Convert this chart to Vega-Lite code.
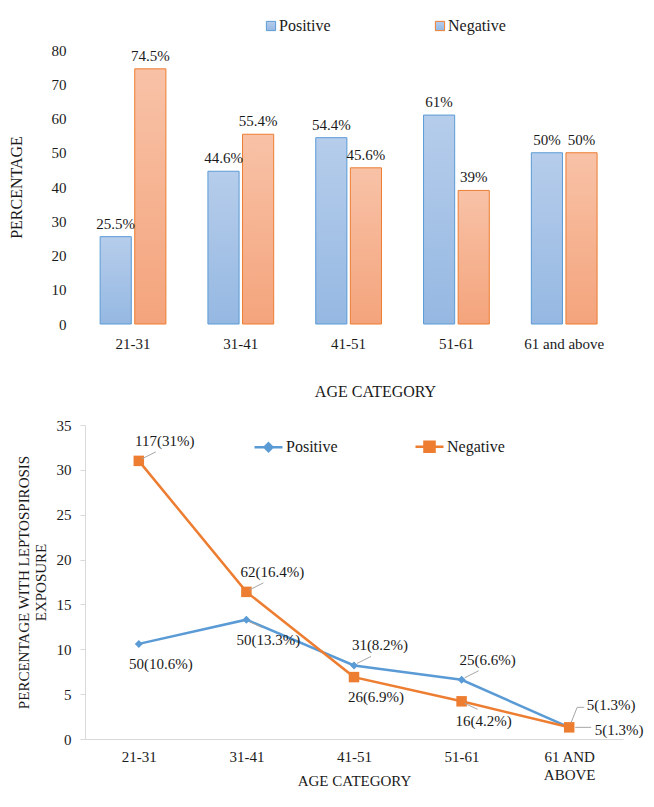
{
  "$schema": "https://vega.github.io/schema/vega-lite/v6.json",
  "padding": {"left": 8, "top": 18, "right": 8, "bottom": 3},
  "spacing": 19,
  "resolve": {"scale": {"color": "independent", "stroke": "independent"}, "legend": {"color": "independent", "stroke": "independent"}},
  "config": {
    "font": "Liberation Serif",
    "view": {"stroke": null},
    "axis": {"labelFont": "Liberation Serif", "titleFont": "Liberation Serif", "labelColor": "#1a1a1a", "titleColor": "#1a1a1a", "titleFontWeight": "normal", "grid": false},
    "legend": {"labelFont": "Liberation Serif", "labelColor": "#1a1a1a"}
  },
  "datasets": {
    "bars": [
      {"age": "21-31", "series": "Positive", "value": 25.5, "label": "25.5%"},
      {"age": "21-31", "series": "Negative", "value": 74.5, "label": "74.5%"},
      {"age": "31-41", "series": "Positive", "value": 44.6, "label": "44.6%"},
      {"age": "31-41", "series": "Negative", "value": 55.4, "label": "55.4%"},
      {"age": "41-51", "series": "Positive", "value": 54.4, "label": "54.4%"},
      {"age": "41-51", "series": "Negative", "value": 45.6, "label": "45.6%"},
      {"age": "51-61", "series": "Positive", "value": 61, "label": "61%"},
      {"age": "51-61", "series": "Negative", "value": 39, "label": "39%"},
      {"age": "61 and above", "series": "Positive", "value": 50, "label": "50%"},
      {"age": "61 and above", "series": "Negative", "value": 50, "label": "50%"}
    ],
    "lines": [
      {"age": "21-31", "series": "Positive", "value": 10.6, "label": "50(10.6%)"},
      {"age": "31-41", "series": "Positive", "value": 13.3, "label": "50(13.3%)"},
      {"age": "41-51", "series": "Positive", "value": 8.2, "label": "31(8.2%)"},
      {"age": "51-61", "series": "Positive", "value": 6.6, "label": "25(6.6%)"},
      {"age": "61 AND ABOVE", "series": "Positive", "value": 1.3, "label": "5(1.3%)"},
      {"age": "21-31", "series": "Negative", "value": 31, "label": "117(31%)"},
      {"age": "31-41", "series": "Negative", "value": 16.4, "label": "62(16.4%)"},
      {"age": "41-51", "series": "Negative", "value": 6.9, "label": "26(6.9%)"},
      {"age": "51-61", "series": "Negative", "value": 4.2, "label": "16(4.2%)"},
      {"age": "61 AND ABOVE", "series": "Negative", "value": 1.3, "label": "5(1.3%)"}
    ]
  },
  "vconcat": [
    {
      "width": 539,
      "height": 274,
      "data": {"name": "bars"},
      "encoding": {
        "x": {
          "field": "age", "type": "nominal", "sort": null,
          "scale": {"paddingInner": 0.39, "paddingOuter": 0.195, "align": 0.36},
          "axis": {"title": "AGE CATEGORY", "labelAngle": 0, "labelFontSize": 15, "labelPadding": 12, "ticks": false, "domain": false, "titleFontSize": 16, "titlePadding": 32, "titleX": 290}
        },
        "y": {
          "field": "value", "type": "quantitative",
          "scale": {"domain": [0, 80]},
          "axis": {"title": "PERCENTAGE", "values": [0, 10, 20, 30, 40, 50, 60, 70, 80], "labelFontSize": 15, "labelPadding": 19, "ticks": false, "domain": false, "titleFontSize": 16, "titlePadding": 27}
        },
        "xOffset": {"field": "series", "type": "nominal", "scale": {"domain": ["Positive", "Negative"], "paddingInner": 0.1}}
      },
      "layer": [
        {
          "transform": [{"filter": "datum.series == 'Positive'"}],
          "mark": {
            "type": "bar", "strokeWidth": 1,
            "fill": {"gradient": "linear", "x1": 0, "y1": 0, "x2": 0, "y2": 1, "stops": [{"offset": 0, "color": "#b6cdeb"}, {"offset": 1, "color": "#95b8e2"}]}
          },
          "encoding": {
            "stroke": {
              "field": "series", "type": "nominal",
              "scale": {"domain": ["Positive", "Negative"], "range": ["#5b9bd5", "#ed7d31"]},
              "legend": {
                "title": null, "orient": "none", "legendX": 178, "legendY": -32, "direction": "horizontal",
                "symbolType": "square", "symbolSize": 85, "symbolStrokeWidth": 1, "labelFontSize": 16, "labelOffset": 0, "columnPadding": 101,
                "encode": {"symbols": {"update": {"fill": {"signal": "datum.value === 'Positive' ? '#a6c3e8' : '#f6b494'"}, "fillOpacity": {"value": 1}}}}
              }
            }
          }
        },
        {
          "transform": [{"filter": "datum.series == 'Negative'"}],
          "mark": {
            "type": "bar", "strokeWidth": 1,
            "fill": {"gradient": "linear", "x1": 0, "y1": 0, "x2": 0, "y2": 1, "stops": [{"offset": 0, "color": "#f8c2a7"}, {"offset": 1, "color": "#f4a47c"}]}
          },
          "encoding": {
            "stroke": {"field": "series", "type": "nominal"}
          }
        },
        {
          "mark": {"type": "text", "font": "Liberation Serif", "fontSize": 15, "dy": -8, "baseline": "alphabetic", "color": "#1a1a1a"},
          "encoding": {"text": {"field": "label"}}
        }
      ]
    },
    {
      "width": 538,
      "height": 314,
      "data": {"name": "lines"},
      "encoding": {
        "x": {
          "field": "age", "type": "ordinal", "sort": null,
          "scale": {"type": "point", "padding": 0.5},
          "axis": {
            "title": "AGE CATEGORY", "labelAngle": 0, "labelFontSize": 15, "labelPadding": 10, "labelLineHeight": 18, "ticks": false,
            "domainColor": "#d9d9d9", "titleFontSize": 15, "titleY": 34, "titleBaseline": "top",
            "labelExpr": "datum.value == '61 AND ABOVE' ? ['61 AND', 'ABOVE'] : datum.value"
          }
        },
        "y": {
          "field": "value", "type": "quantitative",
          "scale": {"domain": [0, 35]},
          "axis": {
            "title": ["PERCENTAGE  WITH  LEPTOSPIROSIS", "EXPOSURE"], "values": [0, 5, 10, 15, 20, 25, 30, 35],
            "labelFontSize": 15, "labelPadding": 9, "tickSize": 5, "tickColor": "#d9d9d9", "domainColor": "#d9d9d9",
            "titleFontSize": 15, "titlePadding": 8, "titleLineHeight": 17
          }
        }
      },
      "layer": [
        {
          "mark": {"type": "line", "strokeWidth": 2.5},
          "encoding": {
            "color": {
              "field": "series", "type": "nominal",
              "scale": {"domain": ["Positive", "Negative"], "range": ["#5b9bd5", "#ed7d31"]},
              "legend": {
                "title": null, "orient": "none", "legendX": 168, "legendY": 6, "direction": "horizontal",
                "symbolSize": 784, "symbolStrokeWidth": 2.5, "labelFontSize": 16, "labelOffset": 2, "columnPadding": 72,
                "symbolType": "M-1,0H1",
                "encode": {"symbols": {"update": {
                  "shape": {"signal": "datum.value === 'Positive' ? 'M-1,0H1M0,-0.28L0.28,0L0,0.28L-0.28,0Z' : 'M-1,0H1M-0.36,-0.36H0.36V0.36H-0.36Z'"},
                  "fill": {"signal": "datum.value === 'Positive' ? '#5b9bd5' : '#ed7d31'"},
                  "fillOpacity": {"value": 1}
                }}}
              }
            }
          }
        },
        {
          "transform": [{"filter": "datum.series == 'Positive'"}],
          "mark": {"type": "point", "shape": "diamond", "filled": true, "opacity": 1, "size": 64, "color": "#5b9bd5"},
          "encoding": {}
        },
        {
          "transform": [{"filter": "datum.series == 'Negative'"}],
          "mark": {"type": "point", "shape": "square", "filled": true, "opacity": 1, "size": 110, "color": "#ed7d31"},
          "encoding": {}
        },
        {
          "transform": [{"filter": "(datum.series == 'Negative' && (datum.age == '21-31' || datum.age == '31-41')) || (datum.series == 'Positive' && (datum.age == '41-51' || datum.age == '51-61'))"}],
          "mark": {"type": "rule", "color": "#a6a6a6", "strokeWidth": 1, "xOffset": 3, "yOffset": -2, "x2Offset": 17, "y2Offset": -9},
          "encoding": {"x2": {"field": "age"}, "y2": {"field": "value"}}
        },
        {
          "transform": [{"filter": "(datum.series == 'Positive' && datum.age == '31-41') || (datum.series == 'Negative' && datum.age == '51-61')"}],
          "mark": {"type": "rule", "color": "#a6a6a6", "strokeWidth": 1, "xOffset": 3, "yOffset": 2, "x2Offset": 16, "y2Offset": 8},
          "encoding": {"x2": {"field": "age"}, "y2": {"field": "value"}}
        },
        {
          "transform": [{"filter": "datum.series == 'Positive' && datum.age == '61 AND ABOVE'"}],
          "mark": {"type": "rule", "color": "#a6a6a6", "strokeWidth": 1, "xOffset": 2, "yOffset": -5, "x2Offset": 8, "y2Offset": -20},
          "encoding": {"x2": {"field": "age"}, "y2": {"field": "value"}}
        },
        {
          "transform": [{"filter": "datum.series == 'Positive' && datum.age == '61 AND ABOVE'"}],
          "mark": {"type": "rule", "color": "#a6a6a6", "strokeWidth": 1, "xOffset": 8, "yOffset": -20, "x2Offset": 15, "y2Offset": -20},
          "encoding": {"x2": {"field": "age"}, "y2": {"field": "value"}}
        },
        {
          "transform": [{"filter": "datum.series == 'Negative' && datum.age == '61 AND ABOVE'"}],
          "mark": {"type": "rule", "color": "#a6a6a6", "strokeWidth": 1, "xOffset": 6, "yOffset": 0, "x2Offset": 22, "y2Offset": 0},
          "encoding": {"x2": {"field": "age"}, "y2": {"field": "value"}}
        },
        {
          "transform": [{"filter": "(datum.series == 'Negative' && (datum.age == '21-31' || datum.age == '31-41')) || (datum.series == 'Positive' && (datum.age == '41-51' || datum.age == '51-61'))"}],
          "mark": {"type": "text", "font": "Liberation Serif", "fontSize": 15, "dx": 26, "dy": -20, "baseline": "middle", "color": "#1a1a1a"},
          "encoding": {"text": {"field": "label"}}
        },
        {
          "transform": [{"filter": "(datum.series == 'Positive' && (datum.age == '21-31' || datum.age == '31-41')) || (datum.series == 'Negative' && (datum.age == '41-51' || datum.age == '51-61'))"}],
          "mark": {"type": "text", "font": "Liberation Serif", "fontSize": 15, "dx": 22, "dy": 20, "baseline": "middle", "color": "#1a1a1a"},
          "encoding": {"text": {"field": "label"}}
        },
        {
          "transform": [{"filter": "datum.series == 'Positive' && datum.age == '61 AND ABOVE'"}],
          "mark": {"type": "text", "font": "Liberation Serif", "fontSize": 15, "dx": 42, "dy": -22, "baseline": "middle", "color": "#1a1a1a"},
          "encoding": {"text": {"field": "label"}}
        },
        {
          "transform": [{"filter": "datum.series == 'Negative' && datum.age == '61 AND ABOVE'"}],
          "mark": {"type": "text", "font": "Liberation Serif", "fontSize": 15, "dx": 50, "dy": 3, "baseline": "middle", "color": "#1a1a1a"},
          "encoding": {"text": {"field": "label"}}
        }
      ]
    }
  ]
}
